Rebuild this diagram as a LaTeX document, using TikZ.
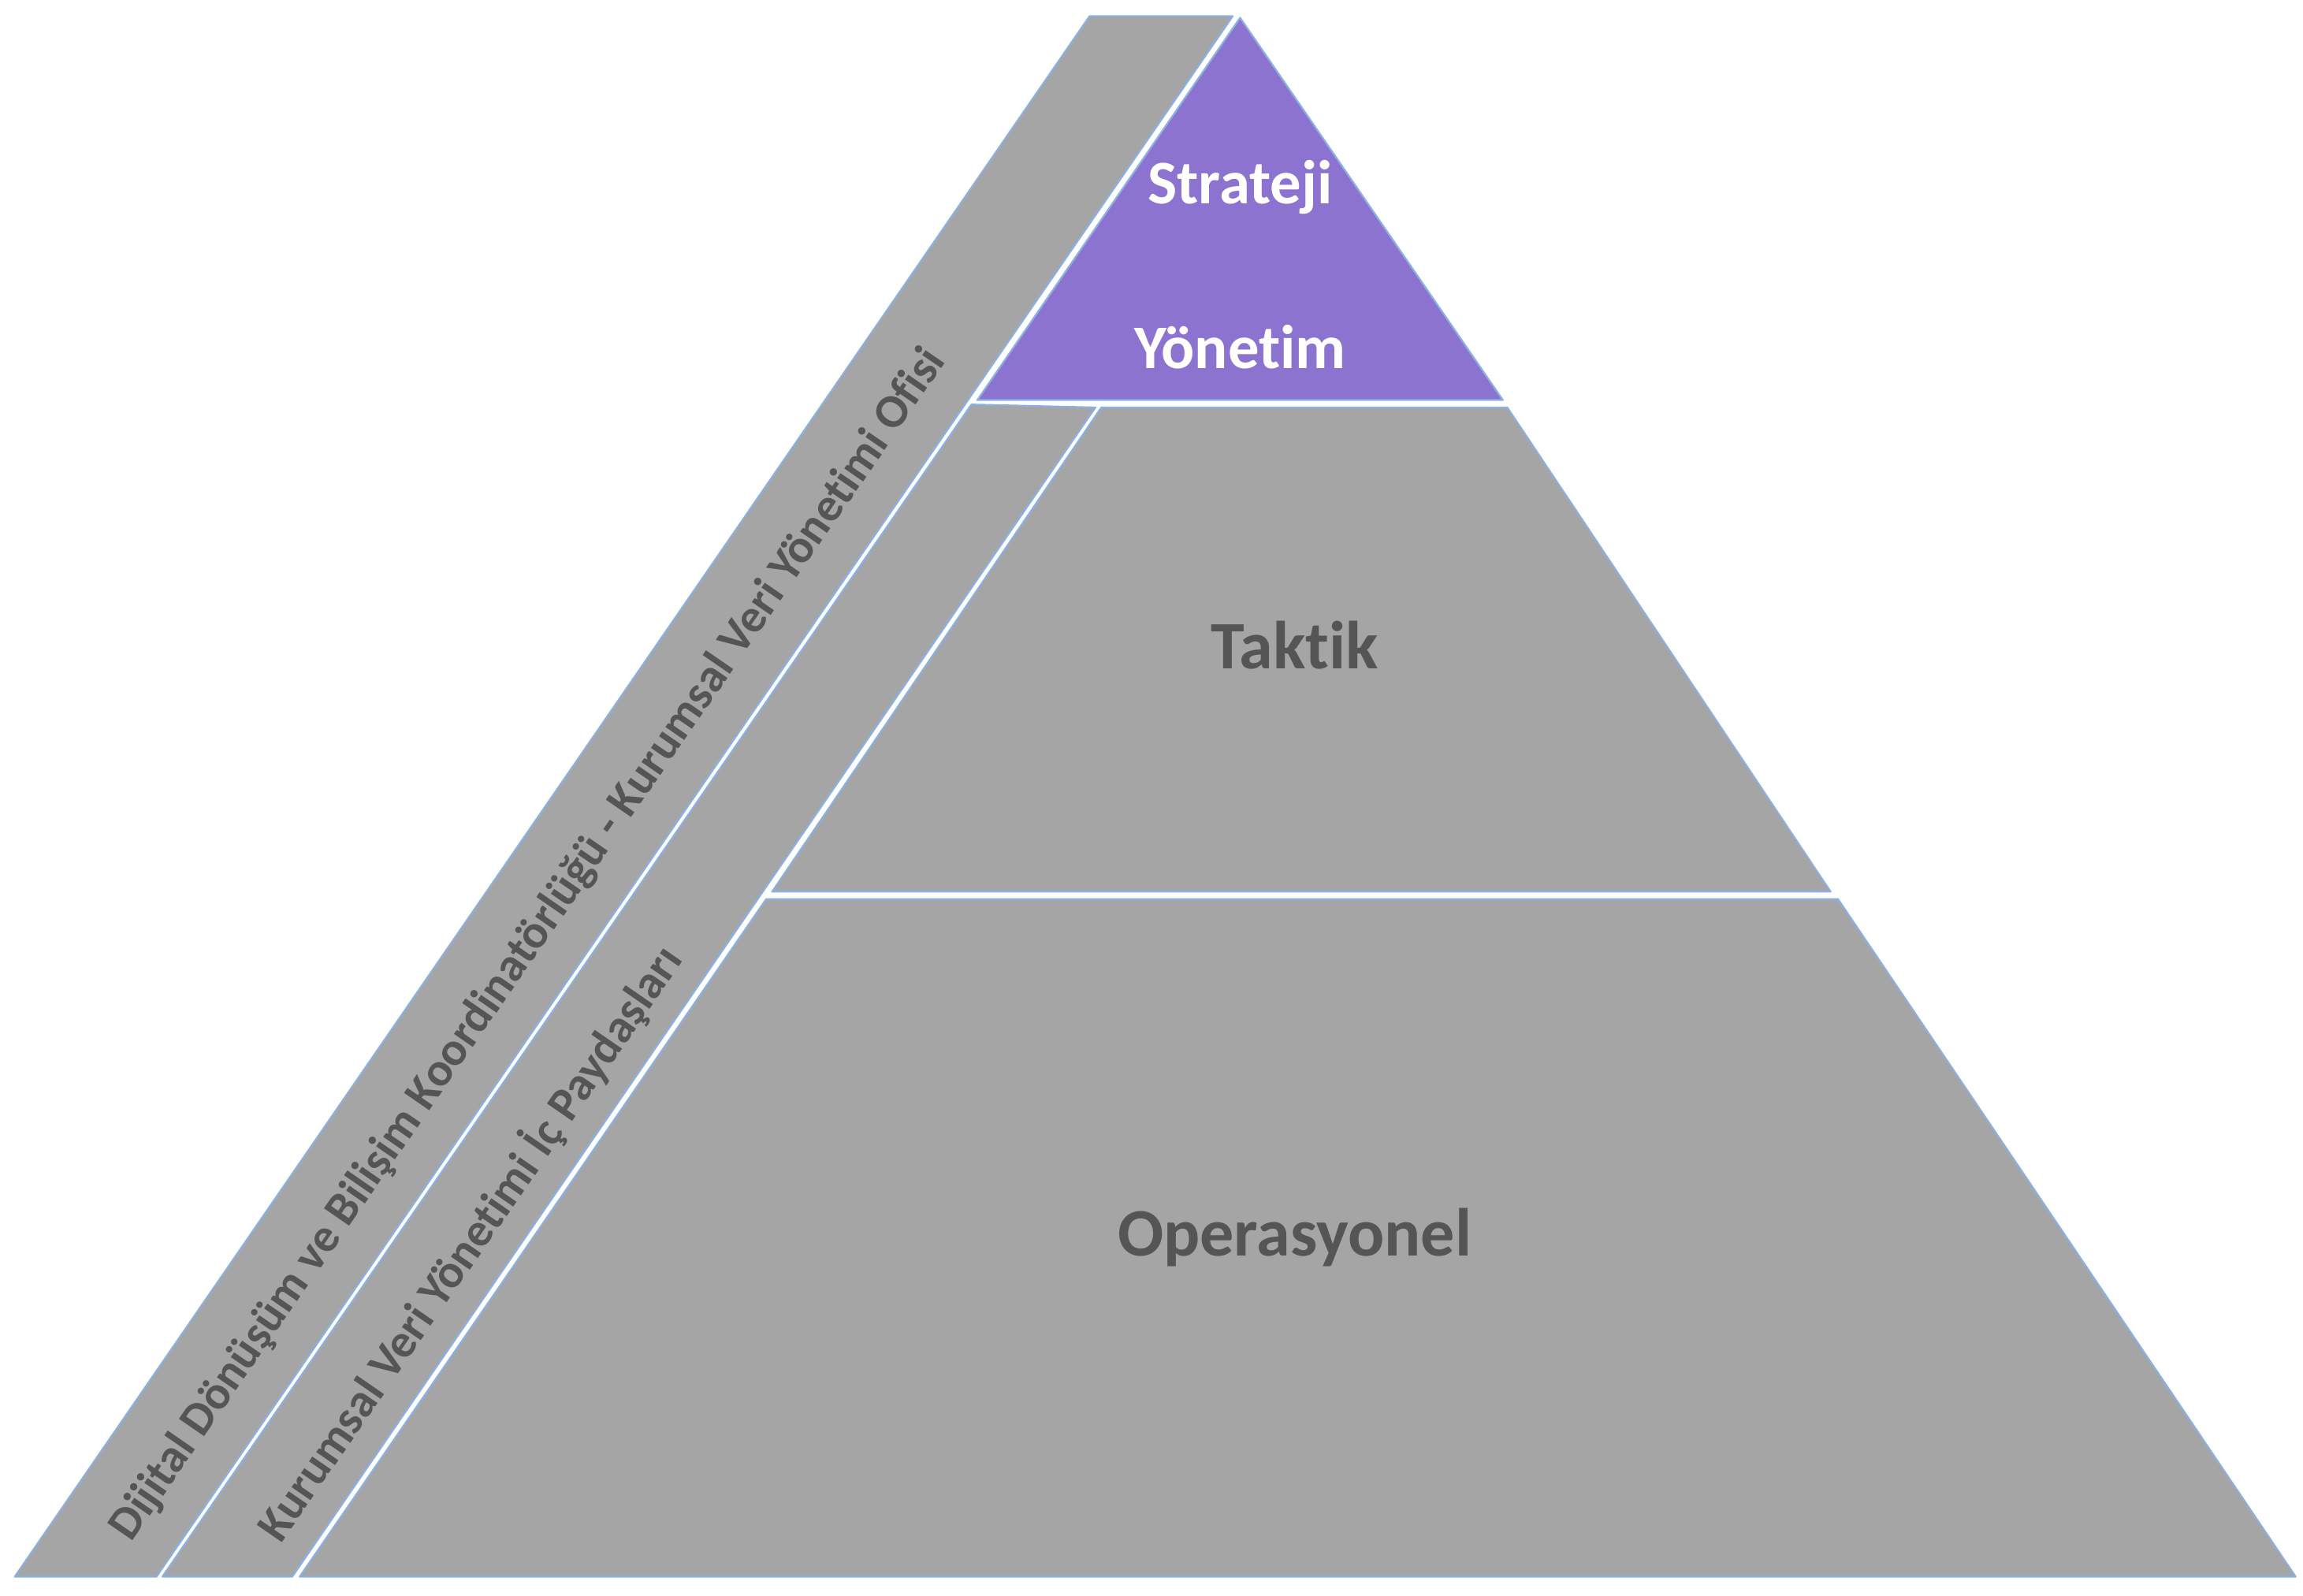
\documentclass[tikz,border=0pt]{standalone}
\usepackage{fontspec}
\setmainfont[Ligatures={NoCommon}]{Carlito}
\begin{document}
\begin{tikzpicture}[x=1pt,y=-1pt,
  seg/.style={fill=segGray,draw=edgeBlue,line width=1.2pt,line join=round},
  lbl/.style={font=\bfseries\fontsize{46}{50}\selectfont,text=txtGray},
  wlbl/.style={font=\bfseries\fontsize{42}{46}\selectfont,text=white},
  blbl/.style={font=\bfseries\fontsize{32}{36}\selectfont,text=txtGray,rotate=55.4}]
\definecolor{segGray}{HTML}{A5A5A5}
\definecolor{edgeBlue}{HTML}{8CB0E0}
\definecolor{purp}{HTML}{8C73CF}
\definecolor{txtGray}{HTML}{555555}
\useasboundingbox (0,0) rectangle (1560,1081);
\fill[white] (0,0) rectangle (1560,1081);
\draw[seg,fill=purp] (840,12) -- (1018,271) -- (662,271) -- cycle;
\draw[seg] (746,276) -- (1021,276) -- (1240,604) -- (523,604) -- cycle;
\draw[seg] (519,609) -- (1245,609) -- (1555,1068) -- (203,1068) -- cycle;
\draw[seg] (738,11) -- (835,11) -- (106,1068) -- (10,1068) -- cycle;
\draw[seg] (658,274) -- (742,276) -- (198,1068) -- (110,1068) -- cycle;
\node[wlbl] (s) at (840,127) {Strateji};
\node[wlbl] (y) at (840,235) {Yönetim};
\node[lbl] (t) at (877,437) {Taktik};
\node[lbl] (o) at (877,838) {Operasyonel};
\node[blbl] (b1) at (358,640) {Dijital Dönüşüm ve Bilişim Koordinatörlüğü - Kurumsal Veri Yönetimi Ofisi};
\node[blbl] (b2) at (318,842) {Kurumsal Veri Yönetimi İç Paydaşları};
\end{tikzpicture}
\end{document}
